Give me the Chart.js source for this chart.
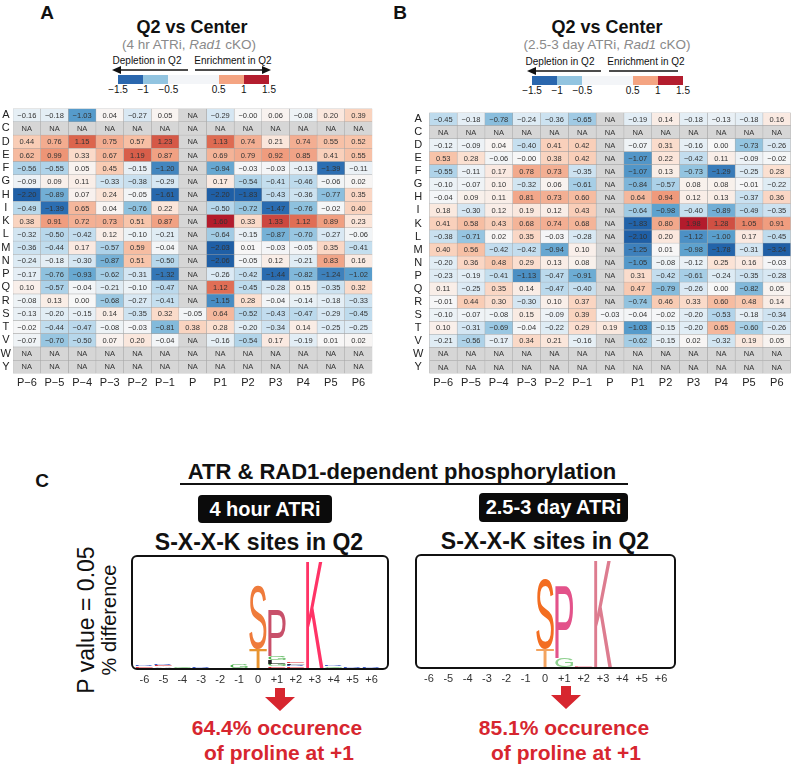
<!DOCTYPE html>
<html>
<head>
<meta charset="utf-8">
<script src="https://cdn.jsdelivr.net/npm/chart.js@4.4.1/dist/chart.umd.min.js"></script>
<style>
    body { margin: 0; background: #fff; }
    #page { position: relative; width: 791px; height: 765px; overflow: hidden; font-family: "Liberation Sans", Arial, sans-serif; color: #111; }
    .t { position: absolute; transform: translate(-50%, -50%); white-space: nowrap; line-height: 1; }
    .b { font-weight: bold; }
    .rot { transform: translate(-50%, -50%) rotate(-90deg); }
    canvas { position: absolute; }
    .bar { position: absolute; height: 9px; }
    .badge { position: absolute; background: #0b0b0b; border-radius: 4px; color: #fff; font-weight: bold; font-size: 20px; display: flex; align-items: center; justify-content: center; }
    .red { color: #d7262f; font-weight: bold; font-size: 21px; }
</style>
</head>
<body>
<div id="page">
    <!-- panel A / B headers -->
    <div class="t b" style="left:47px;top:12px;font-size:19px;">A</div>
    <div class="t b" style="left:400px;top:12px;font-size:19px;">B</div>

    <div class="t b" style="left:192px;top:27px;font-size:18px;">Q2 vs Center</div>
    <div class="t" style="left:189px;top:45px;font-size:13.5px;color:#8a8a8a;">(4 hr ATRi, <i>Rad1</i> cKO)</div>
    <div class="t b" style="left:607px;top:27px;font-size:18px;">Q2 vs Center</div>
    <div class="t" style="left:607px;top:45px;font-size:13.5px;color:#8a8a8a;">(2.5-3 day ATRi, <i>Rad1</i> cKO)</div>

    <div class="t" style="left:147px;top:61px;font-size:10px;">Depletion in Q2</div>
    <div class="t" style="left:233px;top:61px;font-size:10px;">Enrichment in Q2</div>
    <div class="t" style="left:560px;top:62px;font-size:10px;">Depletion in Q2</div>
    <div class="t" style="left:646px;top:62px;font-size:10px;">Enrichment in Q2</div>

    <div id="barA"></div>
    <div id="barB"></div>

    <canvas id="heatA" width="376" height="295" style="left:0;top:100px;"></canvas>
    <canvas id="heatB" width="386" height="295" style="left:405px;top:100px;"></canvas>

    <!-- panel C -->
    <div class="t b" style="left:42px;top:480px;font-size:19px;">C</div>
    <div class="t b" style="left:402px;top:472px;font-size:22px;">ATR &amp; RAD1-dependent phosphorylation</div>
    <div style="position:absolute;left:180px;top:483px;width:448px;height:2px;background:#111;"></div>

    <div class="badge" style="left:198px;top:495px;width:134px;height:28px;">4 hour ATRi</div>
    <div class="badge" style="left:479px;top:493px;width:149px;height:29px;">2.5-3 day ATRi</div>

    <div class="t b" style="left:259px;top:542px;font-size:23px;">S-X-X-K sites in Q2</div>
    <div class="t b" style="left:545px;top:541px;font-size:23px;">S-X-X-K sites in Q2</div>

    <div class="t rot" style="left:86px;top:620px;font-size:23px;">P value = 0.05</div>
    <div class="t rot" style="left:109px;top:620px;font-size:20px;">% difference</div>

    <canvas id="logoA" width="290" height="140" style="left:120px;top:550px;"></canvas>
    <canvas id="logoB" width="290" height="140" style="left:405px;top:550px;"></canvas>

    <div class="t red" style="left:277px;top:727px;">64.4% occurence</div>
    <div class="t red" style="left:279px;top:752px;">of proline at +1</div>
    <div class="t red" style="left:564px;top:727px;">85.1% occurence</div>
    <div class="t red" style="left:566px;top:752px;">of proline at +1</div>

    <svg width="791" height="765" style="position:absolute;left:0;top:0;pointer-events:none;">
        <!-- legend arrows A -->
        <line x1="188" y1="70" x2="118" y2="70" stroke="#111" stroke-width="1.5"/>
        <polygon points="112,70 121,66 121,74" fill="#111"/>
        <line x1="195" y1="70" x2="264" y2="70" stroke="#111" stroke-width="1.5"/>
        <polygon points="271,70 262,66 262,74" fill="#111"/>
        <!-- legend arrows B -->
        <line x1="601" y1="71" x2="533" y2="71" stroke="#111" stroke-width="1.5"/>
        <polygon points="527,71 536,67 536,75" fill="#111"/>
        <line x1="609" y1="71" x2="678" y2="71" stroke="#111" stroke-width="1.5"/>
        <!-- red arrows -->
        <polygon points="275,688 285,688 285,697 295,697 280,711 265,697 275,697" fill="#d7262f"/>
        <polygon points="561,686 571,686 571,695 581,695 566,709 551,695 561,695" fill="#d7262f"/>
    </svg>
</div>

<script>
// Heatmap data (log2 ratio Q2 vs Center), null = NA
const NA = null;
const rowLabels = ['A', 'C', 'D', 'E', 'F', 'G', 'H', 'I', 'K', 'L', 'M', 'N', 'P', 'Q', 'R', 'S', 'T', 'V', 'W', 'Y'];
const colLabels = ['P\u22126', 'P\u22125', 'P\u22124', 'P\u22123', 'P\u22122', 'P\u22121', 'P', 'P1', 'P2', 'P3', 'P4', 'P5', 'P6'];

const values4h = [
    [-0.16, -0.18, -1.03, 0.04, -0.27, 0.05, NA, -0.29, -0.00, 0.06, -0.08, 0.20, 0.39],
    [NA, NA, NA, NA, NA, NA, NA, NA, NA, NA, NA, NA, NA],
    [0.44, 0.76, 1.15, 0.75, 0.57, 1.23, NA, 1.13, 0.74, 0.21, 0.74, 0.55, 0.52],
    [0.62, 0.99, 0.33, 0.67, 1.19, 0.87, NA, 0.69, 0.79, 0.92, 0.85, 0.41, 0.55],
    [-0.56, -0.55, 0.05, 0.45, -0.15, -1.20, NA, -0.94, -0.03, -0.03, -0.13, -1.39, -0.11],
    [-0.09, 0.09, 0.11, -0.33, -0.38, -0.29, NA, 0.17, -0.54, -0.41, -0.46, -0.06, 0.02],
    [-2.20, -0.89, 0.07, 0.24, -0.05, -1.61, NA, -2.20, -1.83, -0.43, -0.36, -0.77, 0.35],
    [-0.49, -1.39, 0.65, 0.04, -0.76, 0.22, NA, -0.50, -0.72, -1.47, -0.76, -0.02, 0.40],
    [0.38, 0.91, 0.72, 0.73, 0.51, 0.87, NA, 1.60, 0.33, 1.33, 1.12, 0.89, 0.23],
    [-0.32, -0.50, -0.42, 0.12, -0.10, -0.21, NA, -0.64, -0.15, -0.87, -0.70, -0.27, -0.06],
    [-0.36, -0.44, 0.17, -0.57, 0.59, -0.04, NA, -2.03, 0.01, -0.03, -0.05, 0.35, -0.41],
    [-0.24, -0.18, -0.30, -0.87, 0.51, -0.50, NA, -2.06, -0.05, 0.12, -0.21, 0.83, 0.16],
    [-0.17, -0.76, -0.93, -0.62, -0.31, -1.32, NA, -0.26, -0.42, -1.44, -0.82, -1.24, -1.02],
    [0.10, -0.57, -0.04, -0.21, -0.10, -0.47, NA, 1.12, -0.45, -0.28, 0.15, -0.35, 0.32],
    [-0.08, 0.13, 0.00, -0.68, -0.27, -0.41, NA, -1.15, 0.28, -0.04, -0.14, -0.18, -0.33],
    [-0.13, -0.20, -0.15, 0.14, -0.35, 0.32, -0.05, 0.64, -0.52, -0.43, -0.47, -0.29, -0.45],
    [-0.02, -0.44, -0.47, -0.08, -0.03, -0.81, 0.38, 0.28, -0.20, -0.34, 0.14, -0.25, -0.25],
    [-0.07, -0.70, -0.50, 0.07, 0.20, -0.04, NA, -0.16, -0.54, 0.17, -0.19, 0.01, 0.02],
    [NA, NA, NA, NA, NA, NA, NA, NA, NA, NA, NA, NA, NA],
    [NA, NA, NA, NA, NA, NA, NA, NA, NA, NA, NA, NA, NA]
];

const values3d = [
    [-0.45, -0.18, -0.78, -0.24, -0.36, -0.65, NA, -0.19, 0.14, -0.18, -0.13, -0.18, 0.16],
    [NA, NA, NA, NA, NA, NA, NA, NA, NA, NA, NA, NA, NA],
    [-0.12, -0.09, 0.04, -0.40, 0.41, 0.42, NA, -0.07, 0.31, -0.16, 0.00, -0.73, -0.26],
    [0.53, 0.28, -0.06, -0.00, 0.38, 0.42, NA, -1.07, 0.22, -0.42, 0.11, -0.09, -0.02],
    [-0.55, -0.11, 0.17, 0.78, 0.73, -0.35, NA, -1.07, 0.13, -0.73, -1.29, -0.25, 0.28],
    [-0.10, -0.07, 0.10, -0.32, 0.06, -0.61, NA, -0.84, -0.57, 0.08, 0.08, -0.01, -0.22],
    [-0.04, 0.09, 0.11, 0.81, 0.73, 0.60, NA, 0.64, 0.94, 0.12, 0.13, -0.37, 0.36],
    [0.18, -0.30, 0.12, 0.19, 0.12, 0.43, NA, -0.64, -0.98, -0.40, -0.89, -0.49, -0.35],
    [0.41, 0.58, 0.43, 0.68, 0.74, 0.68, NA, -1.83, 0.80, 1.98, 1.28, 1.05, 0.91],
    [-0.38, -0.71, 0.02, 0.35, -0.03, -0.28, NA, -2.10, 0.20, -1.12, -1.00, 0.17, -0.45],
    [0.40, 0.56, -0.42, -0.42, -0.94, 0.10, NA, -1.25, 0.01, -0.98, -1.78, -0.31, -3.24],
    [-0.20, 0.36, 0.48, 0.29, 0.13, 0.08, NA, -1.05, -0.08, -0.12, 0.25, 0.16, -0.03],
    [-0.23, -0.19, -0.41, -1.13, -0.47, -0.91, NA, 0.31, -0.42, -0.61, -0.24, -0.35, -0.28],
    [0.11, -0.25, 0.35, 0.14, -0.47, -0.40, NA, 0.47, -0.79, -0.26, 0.00, -0.82, 0.05],
    [-0.01, 0.44, 0.30, -0.30, 0.10, 0.37, NA, -0.74, 0.46, 0.33, 0.60, 0.48, 0.14],
    [-0.10, -0.07, -0.08, 0.15, -0.09, 0.39, -0.03, -0.04, -0.02, -0.20, -0.53, -0.18, -0.34],
    [0.10, -0.31, -0.69, -0.04, -0.22, 0.29, 0.19, -1.03, -0.15, -0.20, 0.65, -0.60, -0.26],
    [-0.21, -0.56, -0.17, 0.34, 0.21, -0.16, NA, -0.62, -0.15, 0.02, -0.32, 0.19, 0.05],
    [NA, NA, NA, NA, NA, NA, NA, NA, NA, NA, NA, NA, NA],
    [NA, NA, NA, NA, NA, NA, NA, NA, NA, NA, NA, NA, NA]
];

// Legend colour bar
const legendBreaks = [-1.5, -1, -0.5, 0.5, 1, 1.5];
const legendTicks = ['\u22121.5', '\u22121', '\u22120.5', '0.5', '1', '1.5'];

// Sequence logos: letters stacked bottom -> top, heights in % difference
const logoPositions = ['-6', '-5', '-4', '-3', '-2', '-1', '0', '+1', '+2', '+3', '+4', '+5', '+6'];
const logo4hLetters = [['E', 'R'], ['A', 'E', 'R'], ['G'], ['R'], [], ['G'], ['T', 'S'], ['E', 'G', 'L', 'G', 'P'], ['E', 'R', 'L', 'E'], ['K'], ['G', 'R'], ['R'], ['R']];
const logo4hHeights = [[1.5, 1.5], [1.5, 1.5, 1.5], [1.5], [1], [], [4], [17, 58], [1.5, 2.5, 3.5, 3.5, 42], [1.5, 1.5, 1.5, 1.5], [96], [1.5, 1.5], [1], [1]];
const logo3dLetters = [[], [], [], [], [], [], ['T', 'S'], ['G', 'P'], ['E'], ['K'], [], [], []];
const logo3dHeights = [[], [], [], [], [], [], [16, 64], [8, 64], [1.5], [96], [], [], []];

// Styles
const FONT = '"Liberation Sans", Arial, sans-serif';
const colorStops = [
    [-2.0, '#1f5fa6'], [-1.4, '#2b6db1'], [-1.0, '#5a9fcd'], [-0.75, '#90c2df'], [-0.5, '#b7d7eb'],
    [-0.25, '#dceaf4'], [0, '#f7f7f7'], [0.25, '#fbe3d6'], [0.5, '#f8c6ac'], [1.0, '#ee9475'],
    [1.15, '#dc654d'], [1.6, '#b31b2c']
];
const legendColors = ['#2a67ae', '#92c4e0', '#f3f5f8', '#f4a482', '#b31d2e'];
const letterColors4h = { S: '#ef7b3b', T: '#e89430', P: '#c8506a', K: '#ff3366', G: '#4cb04c', E: '#e0343a', R: '#3c5cc8', L: '#222222', A: '#9a9a9a' };
const letterColors3d = { S: '#f36d21', T: '#f3a35f', P: '#e3528a', K: '#dd7c8f', G: '#8fd08f', E: '#f08a9a' };

function hexToRgb(h) {
    return [parseInt(h.slice(1, 3), 16), parseInt(h.slice(3, 5), 16), parseInt(h.slice(5, 7), 16)];
}

function cellColor(v) {
    if (v === null) return '#d6d6d6';
    if (v <= colorStops[0][0]) return colorStops[0][1];
    for (let i = 1; i < colorStops.length; i++) {
        if (v <= colorStops[i][0]) {
            const [v0, c0] = colorStops[i - 1];
            const [v1, c1] = colorStops[i];
            const t = (v - v0) / (v1 - v0);
            const a = hexToRgb(c0), b = hexToRgb(c1);
            return `rgb(${a.map((x, k) => Math.round(x + (b[k] - x) * t)).join(',')})`;
        }
    }
    return colorStops[colorStops.length - 1][1];
}

function formatValue(v) {
    if (v === null) return 'NA';
    if (v < 0 || Object.is(v, -0)) return '\u2212' + Math.abs(v).toFixed(2);
    return v.toFixed(2);
}

// Legend colour bars built from the breaks
function buildLegend(id, left, top, width) {
    const el = document.getElementById(id);
    const span = legendBreaks[legendBreaks.length - 1] - legendBreaks[0];
    const px = v => left + (v - legendBreaks[0]) / span * width;
    let html = '';
    for (let i = 0; i < legendBreaks.length - 1; i++) {
        html += `<div class="bar" style="left:${px(legendBreaks[i])}px;top:${top}px;width:${px(legendBreaks[i + 1]) - px(legendBreaks[i]) + 0.5}px;background:${legendColors[i]};"></div>`;
    }
    legendBreaks.forEach((b, i) => {
        html += `<div class="t" style="left:${px(b)}px;top:${top + 15}px;font-size:10px;">${legendTicks[i]}</div>`;
    });
    el.innerHTML = html;
}

// Heatmap drawn as stacked horizontal bars, one dataset per column
function makeHeatmap(id, values, yAxisWidth, yPadding, rightPad) {
    const datasets = colLabels.map((c, j) => ({
        data: rowLabels.map(() => 1),
        backgroundColor: rowLabels.map((r, i) => cellColor(values[i][j])),
        borderColor: '#a3a3a3',
        borderWidth: 0.5,
        borderSkipped: false,
        categoryPercentage: 1,
        barPercentage: 1
    }));

    const cellText = {
        id: 'cellText',
        afterDatasetsDraw(chart) {
            const ctx = chart.ctx;
            ctx.save();
            ctx.font = '7.5px ' + FONT;
            ctx.fillStyle = '#333';
            ctx.textAlign = 'center';
            ctx.textBaseline = 'middle';
            chart.data.datasets.forEach((ds, j) => {
                chart.getDatasetMeta(j).data.forEach((bar, i) => {
                    ctx.fillText(formatValue(values[i][j]), (bar.x + bar.base) / 2, bar.y + 0.5);
                });
            });
            ctx.restore();
        }
    };

    return new Chart(document.getElementById(id), {
        type: 'bar',
        data: { labels: rowLabels, datasets: datasets },
        options: {
            indexAxis: 'y',
            responsive: false,
            animation: false,
            events: [],
            layout: { padding: { top: 3.5, right: rightPad, left: 0, bottom: 0 } },
            plugins: { legend: { display: false }, tooltip: { enabled: false } },
            scales: {
                x: {
                    type: 'linear',
                    stacked: true,
                    min: 0,
                    max: colLabels.length,
                    grid: { display: false, drawTicks: false },
                    border: { display: false },
                    afterBuildTicks: s => { s.ticks = colLabels.map((c, i) => ({ value: i + 0.5 })); },
                    ticks: {
                        autoSkip: false,
                        maxRotation: 0,
                        padding: 3,
                        color: '#222',
                        font: { size: 11, family: FONT },
                        callback: (v, i) => colLabels[i]
                    },
                    afterFit: s => { s.height = 21.5; }
                },
                y: {
                    stacked: true,
                    grid: { display: false, drawTicks: false },
                    border: { display: false },
                    ticks: { autoSkip: false, crossAlign: 'center', padding: yPadding, color: '#222', font: { size: 11, family: FONT } },
                    afterFit: s => { s.width = yAxisWidth; }
                }
            }
        },
        plugins: [cellText]
    });
}

// Draw a letter stretched to fill a rectangle
function drawGlyph(ctx, ch, color, left, top, w, h) {
    ctx.save();
    ctx.font = '100px ' + FONT;
    const m = ctx.measureText(ch);
    const gw = m.actualBoundingBoxLeft + m.actualBoundingBoxRight;
    const gh = m.actualBoundingBoxAscent + m.actualBoundingBoxDescent;
    ctx.translate(left, top);
    ctx.scale(w / gw, h / gh);
    ctx.fillStyle = color;
    ctx.textAlign = 'left';
    ctx.textBaseline = 'alphabetic';
    ctx.fillText(ch, m.actualBoundingBoxLeft, m.actualBoundingBoxAscent);
    ctx.restore();
}

function makeLogo(id, letters, heights, colors, pad, box) {
    const depth = Math.max(...heights.map(h => h.length));
    const datasets = [];
    for (let k = 0; k < depth; k++) {
        datasets.push({
            data: heights.map(h => h[k] || 0),
            backgroundColor: 'rgba(0,0,0,0)',
            borderWidth: 0,
            categoryPercentage: 1,
            barPercentage: 0.92
        });
    }

    const logoPlugin = {
        id: 'logo',
        afterDatasetsDraw(chart) {
            const ctx = chart.ctx;
            chart.data.datasets.forEach((ds, k) => {
                chart.getDatasetMeta(k).data.forEach((bar, p) => {
                    if (!heights[p][k]) return;
                    const ch = letters[p][k];
                    drawGlyph(ctx, ch, colors[ch], bar.x - bar.width / 2, bar.y, bar.width, bar.base - bar.y);
                });
            });
            const a = chart.chartArea;
            ctx.save();
            ctx.strokeStyle = '#111';
            ctx.lineWidth = 2;
            ctx.beginPath();
            ctx.roundRect(a.left - box.l, a.top - box.t, a.right - a.left + box.l + box.r, a.bottom - a.top + box.t + box.b, 5);
            ctx.stroke();
            ctx.restore();
        }
    };

    return new Chart(document.getElementById(id), {
        type: 'bar',
        data: { labels: logoPositions, datasets: datasets },
        options: {
            responsive: false,
            animation: false,
            events: [],
            layout: { padding: pad },
            plugins: { legend: { display: false }, tooltip: { enabled: false } },
            scales: {
                x: {
                    stacked: true,
                    grid: { display: false, drawTicks: false },
                    border: { display: false },
                    ticks: { autoSkip: false, maxRotation: 0, padding: 5, color: '#333', font: { size: 11, family: FONT } },
                    afterFit: s => { s.height = 22; }
                },
                y: { stacked: true, display: false, min: 0, max: 100 }
            }
        },
        plugins: [logoPlugin]
    });
}

buildLegend('barA', 118, 75, 151);
buildLegend('barB', 532, 76, 151);
makeHeatmap('heatA', values4h, 13, 2, 3.7);
makeHeatmap('heatB', values3d, 24.3, 6, 0.3);
makeLogo('logoA', logo4hLetters, logo4hHeights, letterColors4h, { left: 15, right: 29, top: 7, bottom: 0 }, { l: 3, r: 7, t: 1, b: 1 });
makeLogo('logoB', logo3dLetters, logo3dHeights, letterColors3d, { left: 14.3, right: 24.3, top: 6, bottom: 1 }, { l: 3.3, r: 4.3, t: 1, b: 1 });
</script>
</body>
</html>
